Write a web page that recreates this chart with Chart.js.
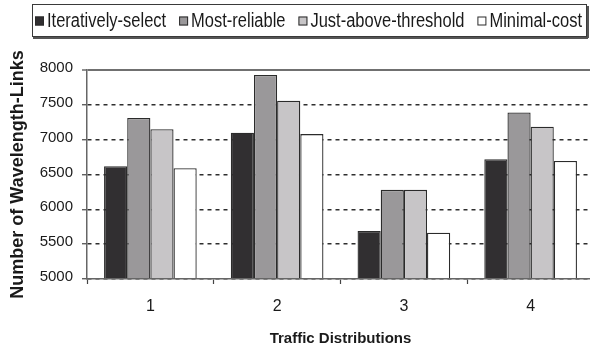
<!DOCTYPE html>
<html>
<head>
<meta charset="utf-8">
<script src="https://cdn.jsdelivr.net/npm/chart.js@4/dist/chart.umd.min.js"></script>
<style>
  html, body { margin: 0; padding: 0; background: #ffffff; overflow: hidden; }
  #wrap { width: 600px; height: 350px; }
</style>
</head>
<body>
<div id="wrap"><canvas id="chart" width="600" height="350"></canvas></div>
<script>
// Traffic distributions on the x axis
const categories = ['1', '2', '3', '4'];

// Number of wavelength-links per selection strategy
const iterativelySelect  = [6620, 7100, 5690, 6720];
const mostReliable       = [7310, 7930, 6280, 7390];
const justAboveThreshold = [7150, 7560, 6280, 7185];
const minimalCost        = [6590, 7080, 5665, 6695];

// Y axis range and tick step
const yMin = 5000;
const yMax = 8000;
const yStep = 500;

const seriesNames = ['Iteratively-select', 'Most-reliable', 'Just-above-threshold', 'Minimal-cost'];
const seriesColors = ['#312f31', '#9a989a', '#c7c5c7', '#ffffff'];
const seriesValues = [iterativelySelect, mostReliable, justAboveThreshold, minimalCost];

const FONT = "'Liberation Sans', Arial, sans-serif";
const INK = '#1a1a1a';

// Boxed legend row drawn across the top of the canvas
const boxedLegend = {
  id: 'boxedLegend',
  afterDraw(chart) {
    const ctx = chart.ctx;
    const sets = chart.data.datasets;
    const left = 35, right = 582, midY = 21, box = 9, gapBoxText = 3;
    ctx.save();
    ctx.font = '16.5px ' + FONT;
    const widths = sets.map(d => ctx.measureText(d.label).width);
    const used = widths.reduce((a, b) => a + b, 0) + sets.length * (box + gapBoxText);
    const gap = (right - left - used) / (sets.length - 1);
    // frame
    ctx.strokeStyle = '#3a3a3a';
    ctx.lineWidth = 1;
    ctx.strokeRect(32.5, 4.5, 554, 32);
    ctx.strokeStyle = '#555555';
    ctx.lineWidth = 2;
    ctx.beginPath();
    ctx.moveTo(33, 38);
    ctx.lineTo(588, 38);
    ctx.moveTo(588, 6);
    ctx.lineTo(588, 38);
    ctx.stroke();
    ctx.lineWidth = 1;
    let x = left;
    sets.forEach((d, i) => {
      ctx.fillStyle = d.backgroundColor;
      ctx.fillRect(x, midY - box / 2, box, box);
      ctx.strokeStyle = '#2a2a2a';
      ctx.strokeRect(x + 0.5, midY - box / 2 + 0.5, box - 1, box - 1);
      ctx.save();
      ctx.translate(x + box + gapBoxText, midY + 1);
      ctx.scale(1, 1.2);
      ctx.fillStyle = INK;
      ctx.textBaseline = 'middle';
      ctx.textAlign = 'left';
      ctx.fillText(d.label, 0, 0);
      ctx.restore();
      x += box + gapBoxText + widths[i] + gap;
    });
    ctx.restore();
  }
};

new Chart(document.getElementById('chart'), {
  type: 'bar',
  data: {
    labels: categories,
    datasets: seriesNames.map((name, i) => ({
      label: name,
      data: seriesValues[i],
      backgroundColor: seriesColors[i],
      borderColor: '#2b2b2b',
      borderWidth: 1.3,
      borderSkipped: false,
      categoryPercentage: 0.731,
      barPercentage: 1.0
    }))
  },
  options: {
    responsive: false,
    animation: false,
    devicePixelRatio: 1,
    layout: { padding: { top: 70, right: 6, bottom: 0, left: 0 } },
    plugins: {
      legend: { display: false },
      tooltip: { enabled: false }
    },
    scales: {
      x: {
        grid: {
          offset: true,
          drawOnChartArea: false,
          tickLength: 5,
          tickColor: '#444444',
          tickWidth: 1.2
        },
        border: { color: '#666666', width: 1.5, z: 1 },
        ticks: {
          color: INK,
          font: { family: FONT, size: 16 },
          padding: 13
        },
        title: {
          display: true,
          text: 'Traffic Distributions',
          color: INK,
          font: { family: FONT, size: 15, weight: 'bold' },
          padding: { top: 0, bottom: 2 }
        },
        afterFit(scale) { scale.height = 71; }
      },
      y: {
        min: yMin,
        max: yMax,
        ticks: {
          stepSize: yStep,
          color: INK,
          font: { family: FONT, size: 15 },
          padding: 9,
          labelOffset: -2,
          callback: v => String(v)
        },
        grid: {
          color: ctx => ctx.tick && ctx.tick.value === yMax ? '#707070' : '#2e2e2e',
          lineWidth: ctx => ctx.tick && ctx.tick.value === yMax ? 2 : 1.5,
          tickLength: 5,
          tickColor: '#444444',
          tickWidth: 1.2,
          tickBorderDash: []
        },
        border: {
          color: '#666666',
          width: 1.5,
          z: 1,
          dash: ctx => ctx.tick && ctx.tick.value === yMax ? [] : [4, 4]
        },
        title: {
          display: true,
          text: 'Number of Wavelength-Links',
          color: INK,
          font: { family: FONT, size: 18, weight: 'bold' },
          padding: { top: 7, bottom: 0 }
        },
        afterFit(scale) { scale.width = 87; }
      }
    }
  },
  plugins: [boxedLegend]
});
</script>
</body>
</html>
